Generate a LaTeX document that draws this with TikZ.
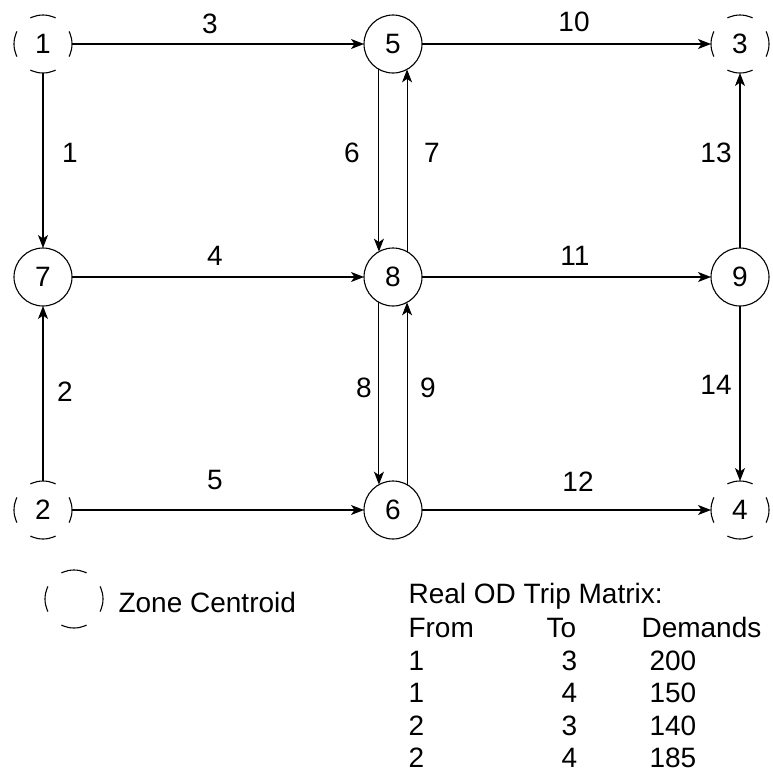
\documentclass[tikz,border=0pt]{standalone}
\usepackage{fontspec}
\setmainfont{Liberation Sans}
\usetikzlibrary{arrows.meta}
\begin{document}
\begin{tikzpicture}[x=1pt,y=-1pt,
  font=\fontsize{28}{32}\selectfont,
  line width=1.1pt,
  nd/.style={circle,draw,minimum size=58pt,inner sep=0pt,outer sep=0pt},
  zone/.style={circle,draw,dash pattern=on 26pt off 19.5pt,dash phase=13pt,minimum size=58pt,inner sep=0pt,outer sep=0pt},
  arr/.style={-{Stealth[length=13pt,width=10pt,inset=3.5pt]}},
  lbl/.style={inner sep=0pt},
  tx/.style={inner sep=0pt,anchor=base west}]
\useasboundingbox (0,0) rectangle (773,782);
% nodes
\node[zone] (n1) at (43,44) {1};
\node[nd]   (n5) at (393,44) {5};
\node[zone] (n3) at (740,44) {3};
\node[nd]   (n7) at (43,277) {7};
\node[nd]   (n8) at (393,277) {8};
\node[nd]   (n9) at (740,277) {9};
\node[zone] (n2) at (43,510) {2};
\node[nd]   (n6) at (393,510) {6};
\node[zone] (n4) at (740,510) {4};
% links
\draw[arr] (n1) -- (n5);
\draw[arr] (n5) -- (n3);
\draw[arr] (n1) -- (n7);
\draw[arr] (n7) -- (n8);
\draw[arr] (n8) -- (n9);
\draw[arr] (n9) -- (n3);
\draw[arr] (n9) -- (n4);
\draw[arr] (n2) -- (n7);
\draw[arr] (n2) -- (n6);
\draw[arr] (n6) -- (n4);
\draw[arr] (n5.241) -- (n8.119);
\draw[arr] (n8.61) -- (n5.299);
\draw[arr] (n8.241) -- (n6.119);
\draw[arr] (n6.61) -- (n8.299);
% link labels
\node[lbl] (l3) at (210,24) {3};
\node[lbl] (l10) at (574,22) {10};
\node[lbl] (l1) at (70,153) {1};
\node[lbl] (l6) at (352,153) {6};
\node[lbl] (l7) at (432,153) {7};
\node[lbl] (l13) at (716,153) {13};
\node[lbl] (l4) at (215,256) {4};
\node[lbl] (l11) at (575,256) {11};
\node[lbl] (l2) at (65,392) {2};
\node[lbl] (l8) at (364,388) {8};
\node[lbl] (l9) at (428,388) {9};
\node[lbl] (l14) at (716,385) {14};
\node[lbl] (l5) at (215,480) {5};
\node[lbl] (l12) at (578,482) {12};
% legend
\node[zone] (lg) at (74,599) {};
\node[tx] (lgt) at (118,612) {Zone Centroid};
% table
\node[tx] (t0) at (408,603) {Real OD Trip Matrix:};
\node[tx] (h1) at (408,637) {From};
\node[tx] (h2) at (546,637) {To};
\node[tx] (h3) at (641,637) {Demands};
\node[tx] (a1) at (408,670) {1};
\node[tx] (a2) at (561,670) {3};
\node[tx] (a3) at (649,670) {200};
\node[tx] (b1) at (408,702) {1};
\node[tx] (b2) at (561,702) {4};
\node[tx] (b3) at (649,702) {150};
\node[tx] (c1) at (408,735) {2};
\node[tx] (c2) at (561,735) {3};
\node[tx] (c3) at (649,735) {140};
\node[tx] (d1) at (408,767) {2};
\node[tx] (d2) at (561,767) {4};
\node[tx] (d3) at (649,767) {185};
\end{tikzpicture}
\end{document}
